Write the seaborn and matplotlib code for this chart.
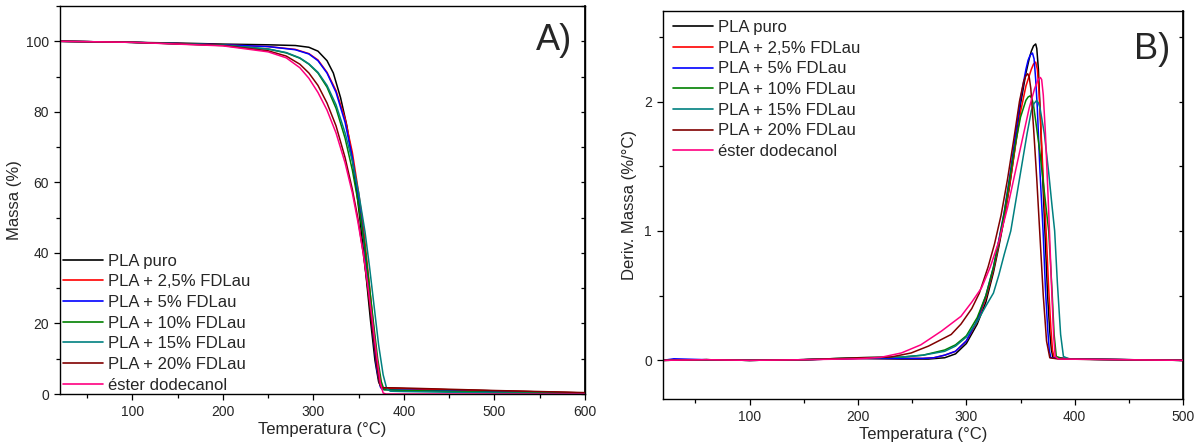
import numpy as np
import pandas as pd
import matplotlib
matplotlib.use("Agg")
import matplotlib.pyplot as plt
from matplotlib.ticker import MultipleLocator, NullFormatter
import seaborn as sns

sns.set_theme(style="white")
plt.rcParams['font.family'] = ['Liberation Sans', 'DejaVu Sans']

labels = ["PLA puro", "PLA + 2,5% FDLau", "PLA + 5% FDLau", "PLA + 10% FDLau",
          "PLA + 15% FDLau", "PLA + 20% FDLau", "éster dodecanol"]
colors = ["#000000", "#ff0000", "#0000ff", "#008000", "#008080", "#800000", "#ff0080"]

# ---- TGA (Massa %) ----
tga_black_T = [20, 100, 150, 200, 250, 280, 295, 305, 315, 322, 330, 337, 343, 348, 353, 358, 363, 368, 372, 375, 400, 500, 600]
tga_black_M = [100, 99.7, 99.5, 99.2, 99.0, 98.8, 98.3, 97.2, 94.5, 91, 84, 76, 66.5, 57, 46, 34, 21, 9.5, 3.5, 1.8, 1.5, 0.9, 0.3]
tga_red_T = [20, 100, 200, 250, 280, 295, 305, 315, 325, 335, 343, 350, 356, 361, 366, 371, 375, 377, 400, 500, 600]
tga_red_M = [100, 99.7, 99.0, 98.5, 97.7, 96.5, 94.7, 91.2, 86, 78, 68.5, 57, 45.5, 33, 20, 8, 2.5, 1.6, 1.5, 0.9, 0.3]
tga_blue_T = [20, 100, 200, 250, 280, 295, 305, 315, 325, 335, 343, 350, 355, 360, 365, 370, 374, 376, 400, 500, 600]
tga_blue_M = [100, 99.7, 99.0, 98.5, 97.6, 96.4, 94.5, 91, 85.5, 77, 67, 55, 45, 33, 19, 7, 2, 1.3, 1.1, 0.6, 0.2]
tga_green_T = [20, 100, 200, 250, 270, 285, 295, 305, 315, 325, 335, 343, 350, 356, 361, 366, 371, 375, 378, 400, 500, 600]
tga_green_M = [100, 99.7, 98.9, 97.8, 96.7, 95.2, 93.5, 91, 87, 81, 72.5, 63.5, 53.5, 43, 32.5, 21, 10, 3.5, 1.2, 1.0, 0.5, 0.2]
tga_teal_T = [20, 100, 200, 250, 270, 285, 295, 305, 315, 325, 335, 343, 350, 357, 362, 367, 372, 377, 381, 385, 400, 500, 600]
tga_teal_M = [100, 99.7, 98.9, 97.8, 96.8, 95.3, 93.6, 91.2, 87.5, 82, 74, 66, 57, 46, 36, 25, 14, 5.5, 1.5, 0.8, 0.7, 0.3, 0.1]
tga_dred_T = [20, 100, 200, 250, 270, 285, 295, 305, 315, 325, 335, 343, 349, 355, 360, 365, 370, 373, 375, 400, 500, 600]
tga_dred_M = [100, 99.7, 98.8, 97.3, 95.8, 93.5, 91, 87.5, 82.5, 76, 67, 58, 50, 40, 30, 19, 8, 3, 1.8, 1.7, 1.0, 0.4]
tga_pink_T = [20, 100, 200, 250, 270, 285, 295, 305, 315, 325, 335, 343, 349, 355, 360, 365, 370, 374, 377, 380, 600]
tga_pink_M = [100, 99.7, 98.7, 97, 95.3, 92.5, 89.5, 85.5, 80.5, 74, 65.5, 57, 49, 40, 31, 21, 10.5, 3, 0.3, 0, 0]

# ---- DTG (Deriv. Massa %/°C) ----
dtg_black_T = [20, 60, 100, 150, 200, 240, 265, 280, 290, 300, 310, 318, 325, 330, 335, 340, 345, 350, 355, 358, 360, 362, 364, 365, 366.5, 368, 370, 372.5, 375, 377, 378.5, 380, 400, 450, 500]
dtg_black_D = [0, 0.005, 0, 0.005, 0.015, 0.01, 0.01, 0.02, 0.05, 0.13, 0.28, 0.45, 0.68, 0.88, 1.1, 1.35, 1.65, 1.98, 2.22, 2.33, 2.39, 2.43, 2.445, 2.41, 2.25, 1.95, 1.5, 1.0, 0.5, 0.22, 0.08, 0.02, 0.01, 0.005, 0.0]
dtg_red_T = [20, 60, 100, 150, 200, 240, 260, 270, 280, 290, 300, 310, 318, 325, 330, 335, 340, 345, 350, 355, 360, 362, 364, 365.5, 367, 368.5, 371, 373.6, 376, 378, 379.5, 381, 400, 500]
dtg_red_D = [0, 0.005, 0, 0.005, 0.015, 0.015, 0.015, 0.02, 0.04, 0.07, 0.15, 0.3, 0.48, 0.7, 0.9, 1.1, 1.36, 1.64, 1.92, 2.12, 2.25, 2.29, 2.305, 2.25, 2.08, 1.85, 1.4, 1.0, 0.55, 0.25, 0.08, 0.02, 0.01, 0.0]
dtg_blue_T = [20, 30, 60, 100, 150, 200, 240, 260, 270, 280, 290, 300, 310, 318, 325, 330, 335, 340, 345, 350, 355, 357, 359, 361, 362.5, 364, 365.5, 368, 370.8, 373, 375, 376.5, 378, 400, 500]
dtg_blue_D = [0, 0.012, 0.005, 0, 0.005, 0.015, 0.015, 0.015, 0.02, 0.04, 0.07, 0.15, 0.31, 0.5, 0.72, 0.93, 1.15, 1.42, 1.72, 2.02, 2.25, 2.32, 2.36, 2.375, 2.33, 2.17, 1.95, 1.45, 1.0, 0.55, 0.25, 0.08, 0.02, 0.01, 0.0]
dtg_green_T = [20, 60, 100, 150, 200, 240, 260, 280, 290, 300, 310, 318, 325, 330, 335, 340, 345, 350, 355, 357, 358.8, 360.5, 362, 364, 368, 372, 376, 379, 381, 383, 390, 500]
dtg_green_D = [0, 0.005, 0, 0.005, 0.02, 0.025, 0.04, 0.08, 0.12, 0.19, 0.33, 0.5, 0.72, 0.92, 1.14, 1.4, 1.66, 1.88, 2.01, 2.035, 2.044, 2.025, 1.97, 1.85, 1.6, 1.3, 1.0, 0.55, 0.2, 0.03, 0.01, 0.0]
dtg_teal_T = [20, 60, 100, 150, 200, 240, 260, 280, 290, 300, 310, 318, 325, 330, 335, 341, 346, 351, 356, 360, 362.5, 364.8, 366.5, 368, 372, 376, 379, 381.5, 384, 387, 389.6, 395, 500]
dtg_teal_D = [0, 0.005, 0, 0.005, 0.02, 0.025, 0.04, 0.07, 0.11, 0.18, 0.3, 0.42, 0.52, 0.66, 0.82, 1.0, 1.25, 1.5, 1.75, 1.93, 1.985, 2.008, 1.99, 1.95, 1.75, 1.45, 1.2, 1.0, 0.6, 0.2, 0.03, 0.01, 0.0]
dtg_dred_T = [20, 60, 100, 150, 200, 230, 249, 265, 286, 295, 305, 312, 320, 326, 332, 338, 344, 349, 353, 355, 356.6, 358, 359.5, 362, 365, 368, 371, 374, 377, 385, 500]
dtg_dred_D = [0, 0.005, 0, 0.005, 0.02, 0.025, 0.057, 0.11, 0.2, 0.28, 0.4, 0.52, 0.72, 0.9, 1.12, 1.4, 1.72, 2.0, 2.16, 2.2, 2.215, 2.19, 2.1, 1.8, 1.4, 0.95, 0.5, 0.15, 0.02, 0.01, 0.0]
dtg_pink_T = [20, 60, 100, 150, 200, 221, 240, 258, 277, 295, 305, 314, 322, 330, 338, 345, 352, 358, 363, 366, 368.3, 369.5, 371, 373, 376, 378.5, 380.5, 382, 385, 500]
dtg_pink_D = [0, 0.005, 0, 0.005, 0.012, 0.023, 0.057, 0.12, 0.226, 0.34, 0.45, 0.56, 0.72, 0.92, 1.18, 1.45, 1.72, 1.95, 2.1, 2.165, 2.186, 2.17, 2.05, 1.75, 1.15, 0.6, 0.2, 0.03, 0.01, 0.0]

tga_sets = [(tga_black_T, tga_black_M), (tga_red_T, tga_red_M), (tga_blue_T, tga_blue_M),
            (tga_green_T, tga_green_M), (tga_teal_T, tga_teal_M), (tga_dred_T, tga_dred_M),
            (tga_pink_T, tga_pink_M)]
dtg_sets = [(dtg_black_T, dtg_black_D), (dtg_red_T, dtg_red_D), (dtg_blue_T, dtg_blue_D),
            (dtg_green_T, dtg_green_D), (dtg_teal_T, dtg_teal_D), (dtg_dred_T, dtg_dred_D),
            (dtg_pink_T, dtg_pink_D)]

def long_df(sets, ycol):
    frames = []
    for lab, (t, v) in zip(labels, sets):
        frames.append(pd.DataFrame({"T": t, ycol: v, "Amostra": lab}))
    return pd.concat(frames, ignore_index=True)

df_tga = long_df(tga_sets, "M")
df_dtg = long_df(dtg_sets, "D")
palette = dict(zip(labels, colors))

fig = plt.figure(figsize=(11.95, 4.48), dpi=100)
ax1 = fig.add_axes([0.0502, 0.1205, 0.4393, 0.8661])
ax2 = fig.add_axes([0.5548, 0.109, 0.4352, 0.8665])

sns.lineplot(data=df_tga, x="T", y="M", hue="Amostra", palette=palette, hue_order=labels,
             sort=False, estimator=None, linewidth=1.1, ax=ax1)
sns.lineplot(data=df_dtg, x="T", y="D", hue="Amostra", palette=palette, hue_order=labels,
             sort=False, estimator=None, linewidth=1.1, ax=ax2)

ax1.set_xlim(20, 600)
ax1.set_ylim(0, 110)
ax1.xaxis.set_major_locator(MultipleLocator(100))
ax1.xaxis.set_minor_locator(MultipleLocator(50))
ax1.yaxis.set_major_locator(MultipleLocator(20))
ax1.yaxis.set_minor_locator(MultipleLocator(10))
ax1.set_xlabel("Temperatura (°C)", fontsize=12, labelpad=2)
ax1.set_ylabel("Massa (%)", fontsize=12, labelpad=3)

ax2.set_xlim(20, 500)
ax2.set_ylim(-0.3, 2.7)
ax2.xaxis.set_major_locator(MultipleLocator(100))
ax2.xaxis.set_minor_locator(MultipleLocator(50))
ax2.yaxis.set_major_locator(MultipleLocator(1))
ax2.yaxis.set_minor_locator(MultipleLocator(0.5))
ax2.set_xlabel("Temperatura (°C)", fontsize=12, labelpad=2)
ax2.set_ylabel("Deriv. Massa (%/°C)", fontsize=12, labelpad=5)

for ax, maj, mnr in ((ax1, 20, 10), (ax2, 1, 0.5)):
    for sp in ax.spines.values():
        sp.set_color("black")
        sp.set_linewidth(1.0)
    ax.tick_params(axis="both", which="both", direction="out", color="black",
                   labelsize=10, width=0.9, bottom=True, left=True, right=False, top=False)
    ax.tick_params(axis="both", which="major", length=4, pad=4)
    ax.tick_params(axis="both", which="minor", length=3)
    sec = ax.secondary_yaxis("right")
    sec.yaxis.set_major_locator(MultipleLocator(maj))
    sec.yaxis.set_minor_locator(MultipleLocator(mnr))
    sec.yaxis.set_major_formatter(NullFormatter())
    sec.tick_params(axis="y", which="both", direction="in", length=3, width=0.9,
                    color="black", labelright=False)
    sec.spines["right"].set_color("black")

leg_kw = dict(frameon=False, fontsize=12, handlelength=2.4, handletextpad=0.3,
              labelspacing=0.34, borderaxespad=0.0, borderpad=0.2)
ax1.legend(loc="lower left", bbox_to_anchor=(0.0, -0.005), **leg_kw)
ax2.legend(loc="upper left", bbox_to_anchor=(0.012, 0.985), **leg_kw)
for ax in (ax1, ax2):
    for ln in ax.get_legend().get_lines():
        ln.set_linewidth(1.2)

ax1.text(0.975, 0.955, "A)", transform=ax1.transAxes, ha="right", va="top", fontsize=26)
ax2.text(0.975, 0.945, "B)", transform=ax2.transAxes, ha="right", va="top", fontsize=26)

fig.savefig("out.png", dpi=100)
